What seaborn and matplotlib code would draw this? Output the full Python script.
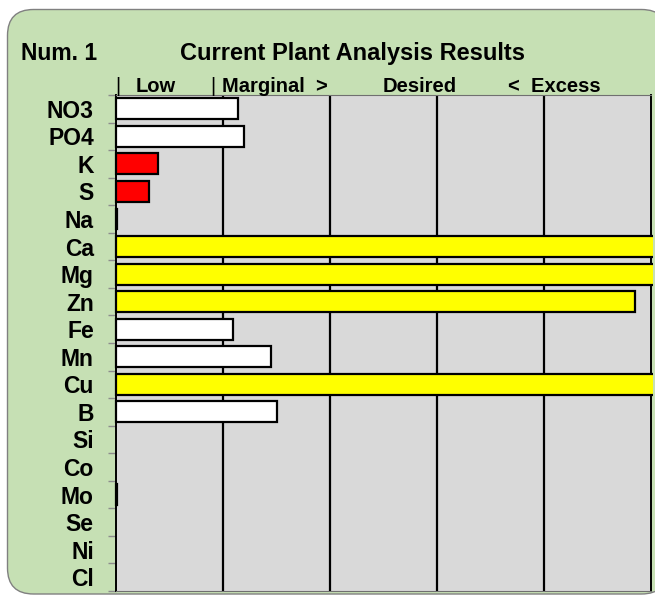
import numpy as np
import pandas as pd
import matplotlib
matplotlib.use("Agg")
import matplotlib.pyplot as plt
import matplotlib.transforms as mtransforms
from matplotlib.patches import FancyBboxPatch
import seaborn as sns

# Données du graphique (valeurs en unités de bande: 0-1 Low, 1-2 Marginal, ...)
elements = ["NO3", "PO4", "K", "S", "Na", "Ca", "Mg", "Zn", "Fe", "Mn",
            "Cu", "B", "Si", "Co", "Mo", "Se", "Ni", "Cl"]
values = [1.14, 1.20, 0.39, 0.31, 0.01, 6.0, 6.0, 4.85, 1.09, 1.45,
          6.0, 1.50, 0.0, 0.0, 0.01, 0.0, 0.0, 0.0]
bar_colors = ["white", "white", "red", "red", "white", "yellow", "yellow", "yellow",
              "white", "white", "yellow", "white", "white", "white", "white",
              "white", "white", "white"]
band_labels = ["Low", "Marginal  >", "Desired", "<  Excess"]

df = pd.DataFrame({"element": elements, "value": values})

sns.set_style("white")
plt.rcParams["font.family"] = ["Liberation Sans", "DejaVu Sans"]
plt.rcParams["text.color"] = "black"
plt.rcParams["ytick.color"] = "black"

W, H, DPI = 655, 596, 100
fig = plt.figure(figsize=(W / DPI, H / DPI), dpi=DPI, facecolor="white")

# Panneau vert arrondi
panel = FancyBboxPatch((7.5, 2), 660, 584.5,
                       boxstyle="round,pad=0,rounding_size=26",
                       transform=mtransforms.IdentityTransform(),
                       facecolor="#C6E0B4", edgecolor="#808080", linewidth=1.0,
                       zorder=-5)
fig.patches.append(panel)

ax = fig.add_axes([116 / W, 1 - 591 / H, (651 - 116) / W, (591 - 95) / H])
ax.set_zorder(2)
ax.set_facecolor("#D9D9D9")

sns.barplot(data=df, x="value", y="element", hue="element", palette=bar_colors,
            legend=False, orient="h", width=0.76, edgecolor="black",
            linewidth=1.6, saturation=1, ax=ax, zorder=3)

# Les barres "Excess" débordent légèrement du cadre (coupées à ~653 px)
clip = mtransforms.Bbox.from_extents(100, 0, 653, H)
for p in ax.patches:
    p.set_clip_on(True)
    p.set_clip_box(clip)
    if p.get_width() == 0:
        p.set_linewidth(0)

ax.set_xlim(0, 5)
ax.set_ylim(len(elements) - 0.5, -0.5)
for xv in [1, 2, 3, 4]:
    ax.axvline(xv, color="black", linewidth=1.6, zorder=2)

ax.set_xlabel("")
ax.set_ylabel("")
ax.set_xticks([])
ax.set_yticks(range(len(elements)))
ax.set_yticklabels(elements, fontsize=16.5, fontweight="bold", color="black")
ax.tick_params(axis="y", which="major", length=0, pad=16)
ax.set_yticks(np.arange(-0.5, len(elements), 1), minor=True)
ax.tick_params(axis="y", which="minor", left=True, length=6, width=1, color="#8c8c8c")

for side in ["left", "right"]:
    ax.spines[side].set_color("black")
    ax.spines[side].set_linewidth(1.4)
for side in ["top", "bottom"]:
    ax.spines[side].set_color("#707070")
    ax.spines[side].set_linewidth(0.8)

# Titres
fig.text(21 / W, 1 - 60 / H, "Num. 1", fontsize=16.5, fontweight="bold",
         ha="left", va="baseline")
fig.text(353 / W, 1 - 60 / H, "Current Plant Analysis Results", fontsize=17,
         fontweight="bold", ha="center", va="baseline")

# Libellés des bandes
yb = 1 - 92 / H
fs = 14.5
fig.text(118 / W, yb, "|", fontsize=fs, ha="center", va="baseline")
fig.text(136 / W, yb, band_labels[0], fontsize=fs, fontweight="bold", ha="left", va="baseline")
fig.text(213 / W, yb, "|", fontsize=fs, ha="center", va="baseline")
fig.text(222 / W, yb, band_labels[1], fontsize=fs, fontweight="bold", ha="left", va="baseline")
fig.text(420 / W, yb, band_labels[2], fontsize=fs, fontweight="bold", ha="center", va="baseline")
fig.text(508 / W, yb, band_labels[3], fontsize=fs, fontweight="bold", ha="left", va="baseline")

fig.savefig("out.png", dpi=DPI, facecolor="white")
